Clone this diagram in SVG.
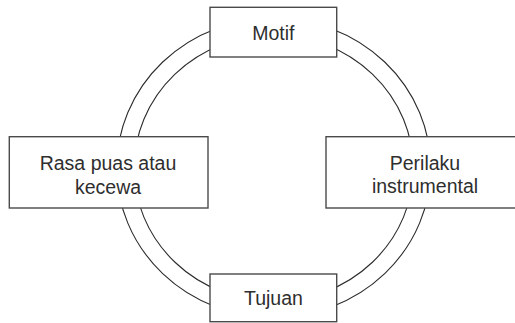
<svg xmlns="http://www.w3.org/2000/svg" width="515" height="323" viewBox="0 0 515 323">
<style>
.ring{fill:none;stroke:#2b2b2b;stroke-width:1.1}
.box{fill:#fff;stroke:#4a4a4a;stroke-width:1.4}
.lbl{font-family:"Liberation Sans",Arial,sans-serif;font-size:19.5px;fill:#2e2e2e;text-anchor:middle}
</style>
<rect width="515" height="323" fill="#fff"/>
<g id="connectors">
<ellipse class="ring" cx="273.7" cy="167.8" rx="157" ry="149.6"/>
<ellipse class="ring" cx="273.7" cy="168.2" rx="139.6" ry="133"/>
</g>
<g id="motif">
<rect class="box" x="210" y="7.3" width="126.7" height="49.7"/>
<text class="lbl" x="273.4" y="39.5">Motif</text>
</g>
<g id="perilaku">
<rect class="box" x="326" y="136.7" width="200" height="71.3"/>
<text class="lbl" x="425" y="170">Perilaku</text>
<text class="lbl" x="425" y="193">instrumental</text>
</g>
<g id="tujuan">
<rect class="box" x="210" y="274" width="126.7" height="47.7"/>
<text class="lbl" x="273.4" y="305">Tujuan</text>
</g>
<g id="rasa">
<rect class="box" x="9.3" y="136.7" width="198.7" height="71.3"/>
<text class="lbl" x="108" y="170">Rasa puas atau</text>
<text class="lbl" x="108" y="193.5">kecewa</text>
</g>
</svg>
